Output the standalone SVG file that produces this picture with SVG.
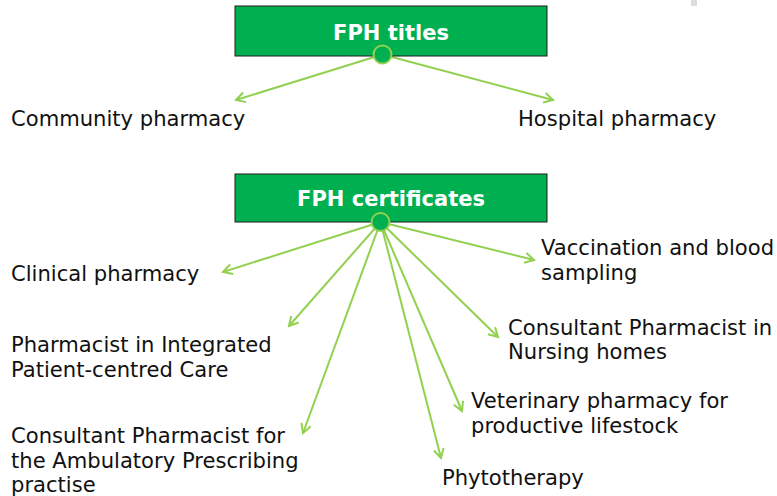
<svg xmlns="http://www.w3.org/2000/svg" width="777" height="496" viewBox="0 0 777 496">
<style>
.box{fill:#00B050;stroke:#1e1e1e;stroke-width:1}
.hub{fill:#00B050;stroke:#92D050;stroke-width:2}
.title{font-family:"DejaVu Sans",Verdana,sans-serif;font-weight:bold;font-size:21px;fill:#ffffff;text-anchor:middle}
.lbl{font-family:"DejaVu Sans",Verdana,sans-serif;font-size:21.1px;fill:#111111}
.con{stroke:#92D050;stroke-width:2;fill:none}
</style>
<defs>
<marker id="arr" markerUnits="userSpaceOnUse" markerWidth="14" markerHeight="14" refX="10" refY="6" orient="auto">
<path d="M1,1 L10,6 L1,11" fill="none" stroke="#92D050" stroke-width="2"/>
</marker>
</defs>
<rect x="0" y="0" width="777" height="496" fill="#ffffff"/>
<rect x="691" y="0" width="6" height="6" fill="#dddddd"/>
<g id="connectors">
<line class="con" x1="382.5" y1="54.5" x2="236" y2="100" marker-end="url(#arr)"/>
<line class="con" x1="382.5" y1="54.5" x2="553" y2="100" marker-end="url(#arr)"/>
<line class="con" x1="380.5" y1="222" x2="223" y2="272" marker-end="url(#arr)"/>
<line class="con" x1="380.5" y1="222" x2="289" y2="326" marker-end="url(#arr)"/>
<line class="con" x1="380.5" y1="222" x2="303" y2="433" marker-end="url(#arr)"/>
<line class="con" x1="380.5" y1="222" x2="441" y2="458" marker-end="url(#arr)"/>
<line class="con" x1="380.5" y1="222" x2="462" y2="411" marker-end="url(#arr)"/>
<line class="con" x1="380.5" y1="222" x2="498" y2="337" marker-end="url(#arr)"/>
<line class="con" x1="380.5" y1="222" x2="534" y2="260" marker-end="url(#arr)"/>
</g>
<g id="fph-titles">
<rect class="box" x="235" y="6" width="312" height="50"/>
<text class="title" x="391" y="39.5">FPH titles</text>
<circle class="hub" cx="382.5" cy="54.5" r="9"/>
</g>
<g id="community-pharmacy"><text class="lbl" x="11" y="126">Community pharmacy</text></g>
<g id="hospital-pharmacy"><text class="lbl" x="518" y="126">Hospital pharmacy</text></g>
<g id="fph-certificates">
<rect class="box" x="235" y="174" width="312" height="48"/>
<text class="title" x="391" y="206">FPH certificates</text>
<circle class="hub" cx="380.5" cy="222" r="9"/>
</g>
<g id="clinical-pharmacy"><text class="lbl" x="11" y="281">Clinical pharmacy</text></g>
<g id="integrated-care"><text class="lbl" x="11" y="352">Pharmacist in Integrated</text><text class="lbl" x="11" y="377">Patient-centred Care</text></g>
<g id="ambulatory"><text class="lbl" x="11" y="443">Consultant Pharmacist for</text><text class="lbl" x="11" y="468">the Ambulatory Prescribing</text><text class="lbl" x="11" y="492">practise</text></g>
<g id="phytotherapy"><text class="lbl" x="442" y="485">Phytotherapy</text></g>
<g id="veterinary"><text class="lbl" x="471" y="408">Veterinary pharmacy for</text><text class="lbl" x="471" y="433">productive lifestock</text></g>
<g id="nursing-homes"><text class="lbl" x="508" y="335">Consultant Pharmacist in</text><text class="lbl" x="508" y="359">Nursing homes</text></g>
<g id="vaccination"><text class="lbl" x="541" y="255">Vaccination and blood</text><text class="lbl" x="541" y="280">sampling</text></g>
</svg>
